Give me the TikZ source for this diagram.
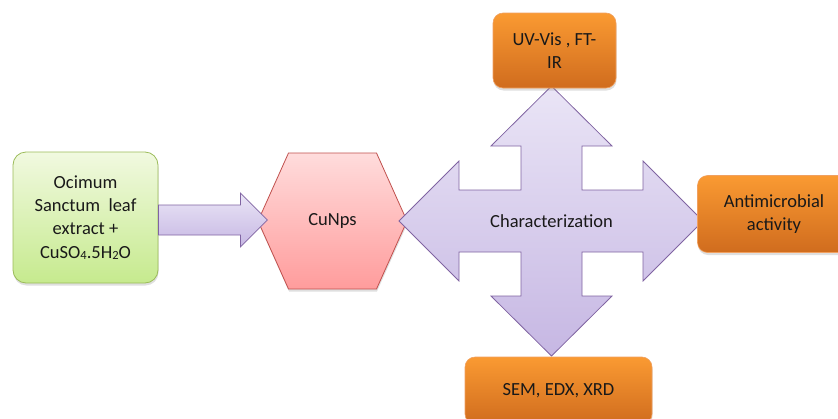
\documentclass[tikz,border=0pt]{standalone}
\usepackage{fontspec}
\setmainfont{Carlito}
\usetikzlibrary{shadows,calc}
\definecolor{grTop}{HTML}{F1F9E0}
\definecolor{grBot}{HTML}{C6EA8E}
\definecolor{grLine}{HTML}{9BBB59}
\definecolor{puTop}{HTML}{EAE5F6}
\definecolor{puBot}{HTML}{C6B7E3}
\definecolor{puLine}{HTML}{8064A2}
\definecolor{pkTop}{HTML}{FFDCDC}
\definecolor{pkBot}{HTML}{FF9C9C}
\definecolor{pkLine}{HTML}{C0504D}
\definecolor{orTop}{HTML}{FA9A32}
\definecolor{orBot}{HTML}{D06C1E}
\definecolor{orLine}{HTML}{F0A060}
\newcommand{\smallsub}[1]{\raisebox{-0.08em}{\fontsize{12.5pt}{12.5pt}\selectfont #1}}
\tikzset{
  txt/.style={font=\fontsize{18.5pt}{23.3pt}\selectfont, text=black!90, align=center},
  shad/.style={drop shadow={opacity=0.25,shadow xshift=0.5pt,shadow yshift=-2.5pt}},
  greenbox/.style={txt, rounded corners=13pt, draw=grLine, line width=0.8pt,
     top color=grTop, bottom color=grBot, minimum width=145pt, minimum height=131pt,
     inner sep=0pt, shad},
  orangebox/.style={txt, rounded corners=10pt, draw=orLine, line width=0.6pt,
     top color=orTop, bottom color=orBot, inner sep=0pt, shad},
  purpleshape/.style={draw=puLine, line width=0.8pt, top color=puTop, bottom color=puBot, line join=miter},
  pinkshape/.style={draw=pkLine, line width=0.8pt, top color=pkTop, bottom color=pkBot, shad}
}
\begin{document}
\begin{tikzpicture}[x=1pt,y=-1pt]
\useasboundingbox (0,0) rectangle (838,418);
% green source box
\node[greenbox] (src) at (85.5,217.5)
  {Ocimum\\Sanctum\ \ leaf\\extract +\\CuSO\smallsub{4}.5H\smallsub{2}O};
% hexagon
\coordinate (hc) at (332.5,221);
\draw[pinkshape, shift={(hc)}] (-44,-68) -- (44,-68) -- (74.5,0) -- (44,68) -- (-44,68) -- (-74.5,0) -- cycle;
\node[txt] (cu) at (hc) {CuNps};
% block arrow from source to hexagon
\coordinate (ta) at ($(src.east)+(0,2.5)$);
\draw[purpleshape, shift={(ta)}] (0,-15) -- (82,-15) -- (82,-27) -- (109,0) -- (82,27) -- (82,15) -- (0,15) -- cycle;
% cross arrow
\coordinate (cc) at (551.5,221);
\draw[purpleshape, shift={(cc)}]
  (0,-135) -- (60.5,-75) -- (30.5,-75) -- (30.5,-31) -- (91.5,-31) -- (91.5,-60)
  -- (151.5,0) -- (91.5,60) -- (91.5,31) -- (30.5,31) -- (30.5,75) -- (60.5,75)
  -- (0,135) -- (-60.5,75) -- (-30.5,75) -- (-30.5,31) -- (-92.5,31) -- (-92.5,60)
  -- (-152.5,0) -- (-92.5,-60) -- (-92.5,-31) -- (-30.5,-31) -- (-30.5,-75) -- (-60.5,-75) -- cycle;
\node[txt] (ch) at (cc) {Characterization};
% orange result boxes
\node[orangebox, minimum width=123pt, minimum height=75pt] (uv) at (554.5,50.5) {UV-Vis , FT-\\IR};
\node[orangebox, minimum width=153pt, minimum height=77pt] (am) at (774,214) {Antimicrobial\\activity};
\node[orangebox, minimum width=187pt, minimum height=67pt] (sem) at (558.5,390.5) {SEM, EDX, XRD};
\end{tikzpicture}
\end{document}
